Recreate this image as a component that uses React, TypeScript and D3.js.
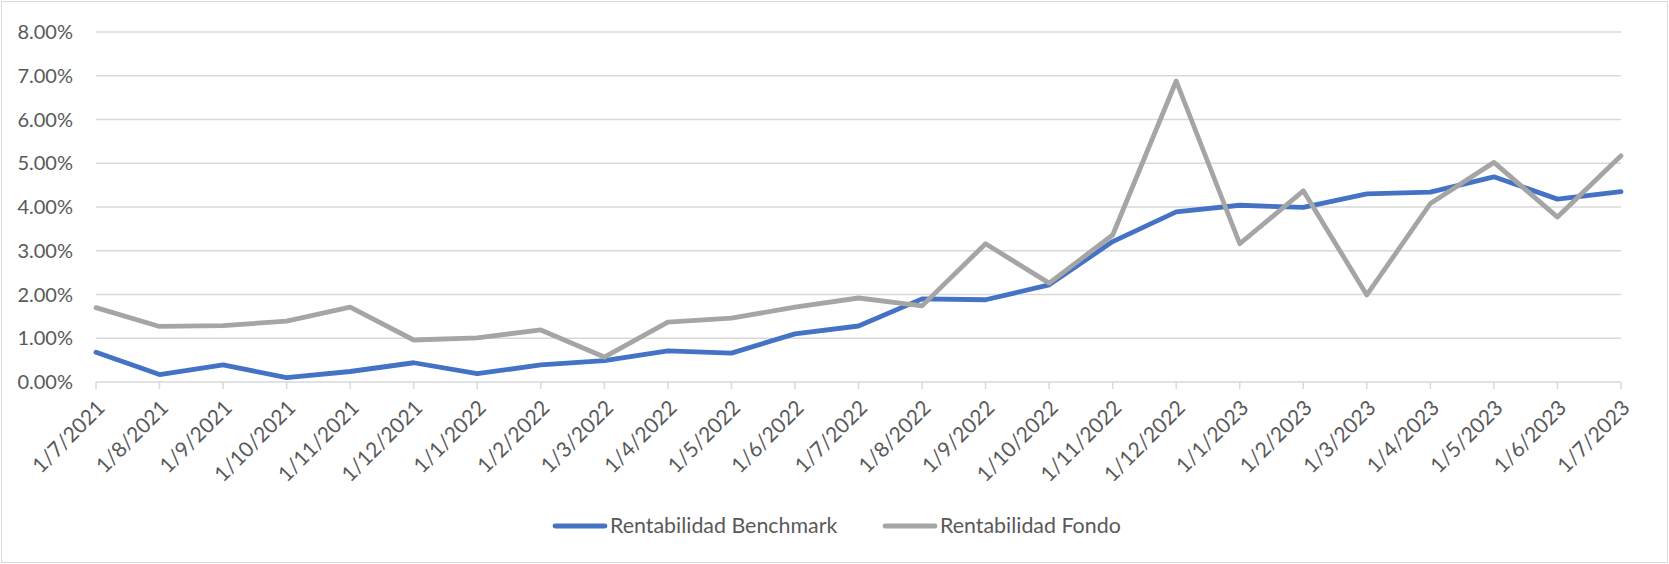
import React, { useEffect, useRef } from 'react';
import * as d3 from 'd3';

const fechas = [
  '1/7/2021', '1/8/2021', '1/9/2021', '1/10/2021', '1/11/2021', '1/12/2021',
  '1/1/2022', '1/2/2022', '1/3/2022', '1/4/2022', '1/5/2022', '1/6/2022',
  '1/7/2022', '1/8/2022', '1/9/2022', '1/10/2022', '1/11/2022', '1/12/2022',
  '1/1/2023', '1/2/2023', '1/3/2023', '1/4/2023', '1/5/2023', '1/6/2023', '1/7/2023',
];

const benchmark = [
  0.68, 0.17, 0.39, 0.10, 0.24, 0.44,
  0.19, 0.39, 0.49, 0.71, 0.66, 1.10,
  1.28, 1.90, 1.88, 2.22, 3.21, 3.89,
  4.04, 3.99, 4.30, 4.34, 4.69, 4.18, 4.35,
];

const fondo = [
  1.70, 1.27, 1.29, 1.39, 1.71, 0.96,
  1.01, 1.19, 0.57, 1.37, 1.46, 1.71,
  1.92, 1.74, 3.16, 2.26, 3.36, 6.88,
  3.16, 4.37, 1.99, 4.08, 5.02, 3.77, 5.17,
];

const yTicks = [0, 1, 2, 3, 4, 5, 6, 7, 8];

const series = [
  { name: 'Rentabilidad Benchmark', values: benchmark, color: '#4472C4' },
  { name: 'Rentabilidad Fondo', values: fondo, color: '#A5A5A5' },
];

const W = 1669;
const H = 564;
const FONT = 'Lato, "Open Sans", sans-serif';

export default function App() {
  const svgRef = useRef<SVGSVGElement>(null);

  useEffect(() => {
    document.body.style.margin = '0';
    const svg = d3.select(svgRef.current);
    svg.selectAll('*').remove();

    const left = 96;
    const right = 1621;
    const top = 32;
    const bottom = 382;

    const x = d3.scalePoint<string>().domain(fechas).range([left, right]);
    const y = d3.scaleLinear().domain([0, 8]).range([bottom, top]);

    svg.append('rect')
      .attr('x', 1.5).attr('y', 1.5)
      .attr('width', W - 3).attr('height', H - 3)
      .attr('fill', '#fff')
      .attr('stroke', '#D9D9D9');

    // gridlines + y labels
    const grid = svg.append('g');
    yTicks.forEach(t => {
      grid.append('line')
        .attr('x1', left).attr('x2', right)
        .attr('y1', y(t)).attr('y2', y(t))
        .attr('stroke', '#D9D9D9')
        .attr('stroke-width', 1.5);
      grid.append('text')
        .attr('x', 73).attr('y', y(t))
        .attr('dy', '0.35em')
        .attr('text-anchor', 'end')
        .style('font-family', FONT)
        .style('font-size', '20px')
        .style('fill', '#595959')
        .text(d3.format('.2f')(t) + '%');
    });

    // category ticks + rotated labels
    const xa = svg.append('g');
    fechas.forEach(f => {
      const px = x(f)!;
      xa.append('line')
        .attr('x1', px).attr('x2', px)
        .attr('y1', bottom).attr('y2', bottom + 7)
        .attr('stroke', '#D9D9D9')
        .attr('stroke-width', 1.5);
      xa.append('text')
        .attr('transform', `translate(${px + 5},${bottom + 22}) rotate(-45)`)
        .attr('text-anchor', 'end')
        .attr('dy', '0.35em')
        .style('font-family', FONT)
        .style('font-size', '21px')
        .style('fill', '#595959')
        .text(f);
    });

    const line = d3.line<number>()
      .x((_, i) => x(fechas[i])!)
      .y(d => y(d));

    series.forEach(s => {
      svg.append('path')
        .datum(s.values)
        .attr('d', line)
        .attr('fill', 'none')
        .attr('stroke', s.color)
        .attr('stroke-width', 4.8)
        .attr('stroke-linejoin', 'round')
        .attr('stroke-linecap', 'round');
    });

    // legend
    const legendPos = [553, 883];
    series.forEach((s, i) => {
      const lx = legendPos[i];
      svg.append('line')
        .attr('x1', lx + 2).attr('x2', lx + 52)
        .attr('y1', 526).attr('y2', 526)
        .attr('stroke', s.color)
        .attr('stroke-width', 4.8)
        .attr('stroke-linecap', 'round');
      svg.append('text')
        .attr('x', lx + 57).attr('y', 526)
        .attr('dy', '0.35em')
        .style('font-family', FONT)
        .style('font-size', '21.4px')
        .style('fill', '#595959')
        .text(s.name);
    });
  }, []);

  return (
    <svg
      ref={svgRef}
      width={W}
      height={H}
      style={{ position: 'absolute', left: 0, top: 0, display: 'block' }}
    />
  );
}
